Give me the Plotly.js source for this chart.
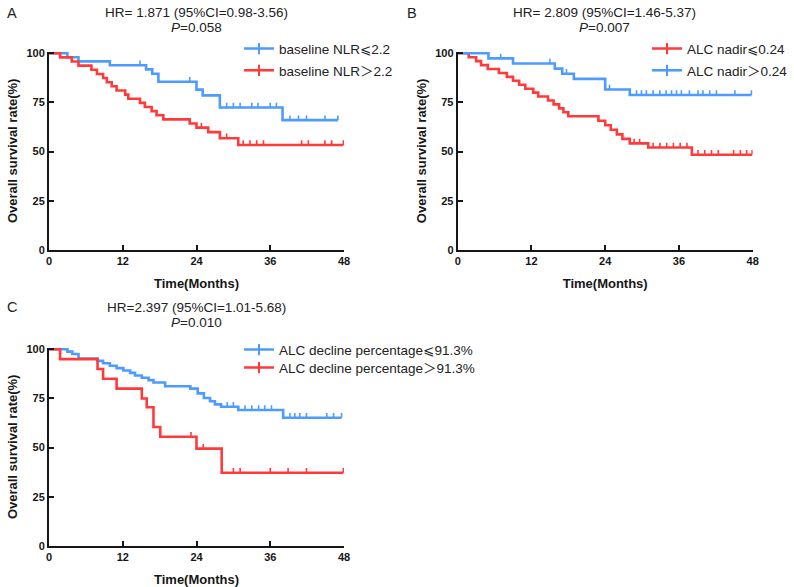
<!DOCTYPE html>
<html><head><meta charset="utf-8">
<script src="https://cdn.plot.ly/plotly-3.0.1.min.js"></script>
<style>html,body{margin:0;padding:0;background:#fff}</style>
</head><body><div id="chart" style="width:794px;height:587px"></div>
<script>
// ---------- DATA ----------
// Panel A : baseline NLR
const aLowName = 'baseline NLR⩽2.2';
const aLowT = [0, 3.0, 4.8, 9.9, 15.8, 16.8, 17.8, 24.0, 25.0, 27.8, 38.0];
const aLowS = [100, 98.0, 95.9, 93.9, 91.8, 89.6, 85.5, 81.5, 78.6, 72.4, 66.0];
const aLowCens = [14.8, 22.9, 28.9, 30.0, 31.1, 33.0, 34.0, 36.0, 37.0, 39.2, 40.6, 41.9, 44.9, 47.0];

const aHighName = 'baseline NLR＞2.2';
const aHighT = [0, 1.8, 3.7, 4.8, 6.9, 7.8, 8.8, 9.4, 10.2, 11.0, 12.4, 12.9, 14.8, 15.6, 16.7, 17.5, 18.6, 22.9, 24.0, 25.9, 27.8, 30.8];
const aHighS = [100, 97.9, 95.8, 93.7, 91.6, 89.5, 87.4, 85.3, 83.2, 81.1, 79.0, 76.9, 74.8, 72.7, 70.6, 68.5, 66.4, 64.3, 62.2, 59.9, 56.8, 53.4];
const aHighCens = [24.8, 28.9, 31.6, 32.7, 33.8, 34.9, 41.1, 42.2, 44.9, 46.0, 47.9];

// Panel B : ALC nadir
const bLowName = 'ALC nadir⩽0.24';
const bLowT = [0, 1.8, 3.0, 3.8, 4.9, 6.7, 8.0, 9.0, 10.0, 11.0, 12.3, 13.1, 14.7, 15.6, 16.5, 17.2, 18.0, 22.9, 24.0, 24.9, 25.9, 26.8, 28.0, 31.0, 38.1];
const bLowS = [100, 98, 96, 94, 92, 90, 88, 86, 84, 82, 80, 78, 76, 74, 72, 70, 68, 65.7, 63.4, 61.1, 58.8, 56.5, 54.2, 52.1, 48.4];
const bLowCens = [28.7, 29.6, 31.8, 32.9, 34.0, 35.1, 36.2, 37.3, 39.1, 40.2, 41.3, 42.4, 44.9, 46.0, 47.0, 47.9];

const bHighName = 'ALC nadir＞0.24';
const bHighT = [0, 5.0, 9.0, 15.8, 17.0, 18.9, 24.0, 28.0];
const bHighS = [100, 97.4, 94.8, 92.2, 89.6, 87.0, 81.6, 78.8];
const bHighCens = [7.0, 15.0, 17.7, 24.7, 29.1, 29.9, 30.7, 31.8, 32.9, 33.9, 34.8, 35.6, 36.4, 37.7, 39.1, 39.9, 41.0, 42.1, 45.1, 47.8];

// Panel C : ALC decline percentage
const cLowName = 'ALC decline percentage⩽91.3%';
const cLowT = [0, 3.0, 3.8, 4.8, 7.9, 8.8, 9.9, 11.0, 12.1, 13.2, 14.0, 15.1, 16.2, 17.0, 18.9, 23.0, 24.2, 25.2, 26.2, 27.0, 28.0, 30.8, 38.1];
const cLowS = [100, 98.8, 97.6, 95.3, 94.1, 92.9, 91.6, 90.4, 89.2, 88.0, 86.7, 85.5, 84.3, 83.1, 81.2, 80.0, 77.6, 75.2, 73.6, 72.0, 70.8, 69.1, 65.2];
const cLowCens = [29.0, 30.0, 31.9, 33.0, 34.1, 35.1, 36.2, 39.2, 40.0, 40.8, 41.9, 45.2, 46.3, 47.6];

const cHighName = 'ALC decline percentage＞91.3%';
const cHighT = [0, 1.8, 7.9, 8.8, 11.0, 15.1, 15.9, 17.0, 18.1, 24.0, 28.1];
const cHighS = [100, 95, 90, 85, 80, 75, 70.5, 60.5, 55.5, 49.5, 37.2];
const cHighCens = [23.1, 25.1, 30.0, 31.1, 36.0, 38.9, 41.9, 47.9];

// Text
const hrTexts = ['HR= 1.871 (95%CI=0.98-3.56)', 'HR= 2.809 (95%CI=1.46-5.37)', 'HR=2.397 (95%CI=1.01-5.68)'];
const pTexts = ['<i>P</i>=0.058', '<i>P</i>=0.007', '<i>P</i>=0.010'];
const panelLetters = ['A', 'B', 'C'];
const xTicks = [0, 12, 24, 36, 48];
const yTicks = [0, 25, 50, 75, 100];

// ---------- STYLE ----------
const BLUE = 'rgb(77,155,255)', RED = 'rgb(255,58,58)', INK = '#161616';
const F = 'Liberation Sans, Arial, DejaVu Sans, Noto Sans CJK SC, sans-serif';
const TICK_H = 2.4;  // censor tick height (y units)
const W = 794, H = 587;
const px = v => v / W, py = v => 1 - v / H;

function km(t, s, cens) {
  const pts = t.map((v, i) => ({x: v, y: s[i], c: 0}));
  cens.forEach(c => {
    let lvl = s[0];
    for (let i = 0; i < t.length; i++) if (t[i] <= c) lvl = s[i];
    pts.push({x: c, y: lvl, c: 1});
  });
  pts.sort((a, b) => a.x - b.x || a.c - b.c);
  return {x: pts.map(p => p.x), y: pts.map(p => p.y), e: pts.map(p => p.c ? TICK_H : 0)};
}

function curve(t, s, cens, name, color, xa, ya, leg) {
  const d = km(t, s, cens);
  return {
    type: 'scatter', mode: 'lines+markers', name: name, x: d.x, y: d.y,
    xaxis: xa, yaxis: ya, legend: leg, hoverinfo: 'skip',
    line: {shape: 'hv', color: color, width: 2.6},
    marker: {symbol: 'line-ns-open', size: 8, color: color, line: {width: 2, color: color}},
    selectedpoints: [], unselected: {marker: {opacity: 0}},
    error_y: {type: 'data', symmetric: false, array: d.e, arrayminus: d.e.map(() => 0),
              width: 0, thickness: 1.6, color: color, visible: true}
  };
}

const data = [
  curve(aLowT, aLowS, aLowCens, aLowName, BLUE, 'x', 'y', 'legend'),
  curve(aHighT, aHighS, aHighCens, aHighName, RED, 'x', 'y', 'legend2'),
  curve(bLowT, bLowS, bLowCens, bLowName, RED, 'x2', 'y2', 'legend3'),
  curve(bHighT, bHighS, bHighCens, bHighName, BLUE, 'x2', 'y2', 'legend4'),
  curve(cLowT, cLowS, cLowCens, cLowName, BLUE, 'x3', 'y3', 'legend5'),
  curve(cHighT, cHighS, cHighCens, cHighName, RED, 'x3', 'y3', 'legend6')
];

function xax(domain, anchor) {
  return {domain: domain, anchor: anchor, range: [0, 48], tickvals: xTicks, ticktext: xTicks.map(String),
    ticks: 'inside', ticklen: 5, tickwidth: 2, tickcolor: INK, showline: true, linewidth: 2, linecolor: INK,
    zeroline: false, showgrid: false, fixedrange: true,
    tickfont: {family: F, size: 11, weight: 'bold', color: INK},
    title: {text: 'Time(Months)', standoff: 12.5, font: {family: F, size: 13, weight: 'bold', color: INK}}};
}
function yax(domain, anchor) {
  return {domain: domain, anchor: anchor, range: [0, 100.8], tickvals: yTicks, ticktext: yTicks.map(String),
    ticks: 'inside', ticklen: 5, tickwidth: 2, tickcolor: INK, showline: true, linewidth: 2, linecolor: INK,
    zeroline: false, showgrid: false, fixedrange: true,
    tickfont: {family: F, size: 11, weight: 'bold', color: INK},
    title: {text: 'Overall survival rate(%)', standoff: 5.5, font: {family: F, size: 13, weight: 'bold', color: INK}}};
}
const xdA = [px(49), px(344)], xdB = [px(457.7), px(752.7)];
const ydTop = [py(250), py(51.7)], ydBot = [py(546), py(347.7)];

function legendAt(xPix, rowCenterPix) {
  return {x: px(xPix), y: py(rowCenterPix - 15), xanchor: 'left', yanchor: 'top', bgcolor: 'rgba(0,0,0,0)',
    borderwidth: 0, font: {family: F, size: 13.5, color: '#222'}};
}

const annotations = [];
const titleX = [196, 604, 196.5];
const titleY1 = [12.3, 12.3, 307.3];
const titleY2 = [27.5, 27.5, 322.5];
const letterX = [11.7, 411.7, 11.7];
const letterY = [13, 13, 306.7];
for (let i = 0; i < 3; i++) {
  annotations.push({xref: 'paper', yref: 'paper', x: px(titleX[i]), y: py(titleY1[i]), text: hrTexts[i],
    showarrow: false, xanchor: 'center', yanchor: 'middle', font: {family: F, size: 13.5, color: '#222'}});
  annotations.push({xref: 'paper', yref: 'paper', x: px(titleX[i]), y: py(titleY2[i]), text: pTexts[i],
    showarrow: false, xanchor: 'center', yanchor: 'middle', font: {family: F, size: 13.5, color: '#222'}});
  annotations.push({xref: 'paper', yref: 'paper', x: px(letterX[i]), y: py(letterY[i]), text: panelLetters[i],
    showarrow: false, xanchor: 'center', yanchor: 'middle', font: {family: F, size: 14.5, color: '#222'}});
}

const layout = {
  width: W, height: H, margin: {l: 0, r: 0, t: 0, b: 0, pad: 0},
  paper_bgcolor: '#fff', plot_bgcolor: 'rgba(0,0,0,0)', showlegend: true,
  xaxis: xax(xdA, 'y'), yaxis: yax(ydTop, 'x'),
  xaxis2: xax(xdB, 'y2'), yaxis2: yax(ydTop, 'x2'),
  xaxis3: xax(xdA, 'y3'), yaxis3: yax(ydBot, 'x3'),
  legend: legendAt(239, 48.3),
  legend2: legendAt(239, 70),
  legend3: legendAt(647, 48.3),
  legend4: legendAt(647, 70),
  legend5: legendAt(239, 349.3),
  legend6: legendAt(239, 367.3),
  annotations: annotations
};

Plotly.newPlot('chart', data, layout, {staticPlot: true, displayModeBar: false});
</script>
</body></html>
